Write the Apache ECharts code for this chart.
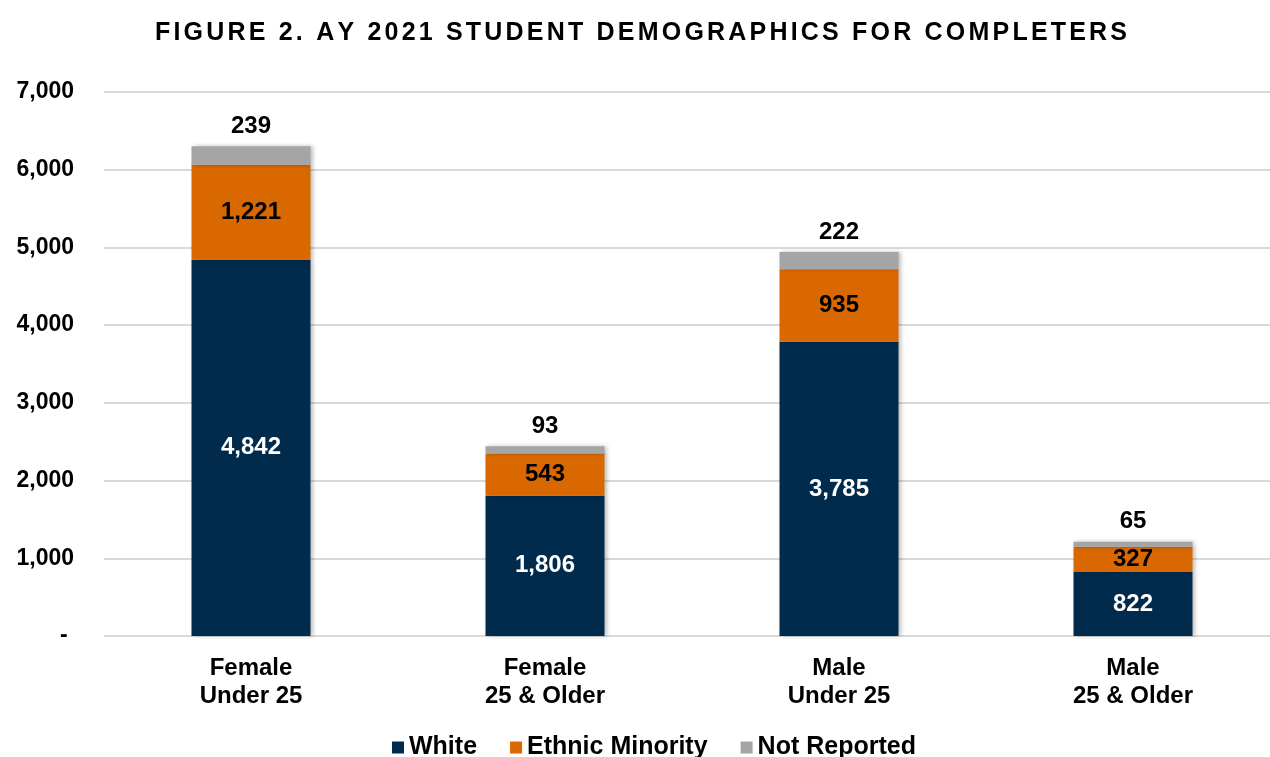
<!DOCTYPE html>
<html>
<head>
<meta charset="utf-8">
<script src="https://cdn.jsdelivr.net/npm/echarts@6/dist/echarts.min.js"></script>
<style>
  html, body { margin: 0; padding: 0; background: #fff; overflow: hidden; }
  /* a little wider than the window: the gridlines run off the right edge like the original */
  #chart { width: 1282px; height: 757px; }
</style>
</head>
<body>
<div id="chart"></div>
<script>
// groups on the x axis
const categories = ['Female\nUnder 25', 'Female\n25 & Older', 'Male\nUnder 25', 'Male\n25 & Older'];
const white = [4842, 1806, 3785, 822];
const ethnicMinority = [1221, 543, 935, 327];
const notReported = [239, 93, 222, 65];
const yTicks = [0, 1000, 2000, 3000, 4000, 5000, 6000, 7000];

const titleText = 'FIGURE 2. AY 2021 STUDENT DEMOGRAPHICS FOR COMPLETERS';
const font = 'Arial, "Liberation Sans", sans-serif';
const fmt = v => v.toLocaleString('en-US');

// title is drawn with expanded character spacing, one rich token per char
const spacedTitle = titleText.split('').map(c => '{c|' + c + '}').join('');

const chart = echarts.init(document.getElementById('chart'));

const option = {
  animation: false,
  textStyle: { fontFamily: font },
  title: {
    text: spacedTitle,
    left: 636,
    textAlign: 'center',
    top: 16,
    textStyle: {
      fontSize: 25, fontWeight: 'bold', color: '#000', fontFamily: font,
      rich: {
        c: { fontSize: 25, fontWeight: 'bold', color: '#000', fontFamily: font, padding: [0, 1.6, 0, 1.6] }
      }
    }
  },
  legend: {
    top: 730,
    left: 387,
    itemWidth: 12,
    itemHeight: 12,
    itemGap: 33,
    icon: 'rect',
    textStyle: { fontSize: 25, fontWeight: 'bold', color: '#000', fontFamily: font },
    data: ['White', 'Ethnic Minority', 'Not Reported']
  },
  grid: { left: 104, right: 2, top: 92, bottom: 121, containLabel: false },
  xAxis: {
    type: 'category',
    data: categories,
    axisLine: { show: false },
    axisTick: { show: false },
    axisLabel: {
      margin: 18,
      fontSize: 24,
      fontWeight: 'bold',
      color: '#000',
      lineHeight: 28,
      fontFamily: font
    }
  },
  yAxis: {
    type: 'value',
    min: yTicks[0],
    max: yTicks[yTicks.length - 1],
    interval: 1000,
    axisLine: { show: false },
    axisTick: { show: false },
    splitLine: { lineStyle: { color: '#d9d9d9', width: 2 } },
    axisLabel: {
      margin: 30,
      fontSize: 23,
      fontWeight: 'bold',
      color: '#000',
      fontFamily: font,
      padding: [3, 0, 0, 0],
      formatter: v => v === 0 ? '- ' : fmt(v)
    }
  },
  series: [
    {
      name: 'White',
      type: 'bar',
      stack: 'total',
      barWidth: 119,
      data: white,
      itemStyle: { color: '#002b4c', shadowColor: 'rgba(0,0,0,0.25)', shadowBlur: 4, shadowOffsetX: 2 },
      label: {
        show: true, position: 'inside', color: '#fff', fontSize: 24, fontWeight: 'bold',
        fontFamily: font, formatter: p => fmt(p.value)
      }
    },
    {
      name: 'Ethnic Minority',
      type: 'bar',
      stack: 'total',
      data: ethnicMinority,
      itemStyle: { color: '#d96800', shadowColor: 'rgba(0,0,0,0.25)', shadowBlur: 4, shadowOffsetX: 2 },
      label: {
        show: true, position: 'inside', color: '#000', fontSize: 24, fontWeight: 'bold',
        fontFamily: font, formatter: p => fmt(p.value)
      }
    },
    {
      name: 'Not Reported',
      type: 'bar',
      stack: 'total',
      data: notReported,
      itemStyle: { color: '#a5a5a5', shadowColor: 'rgba(0,0,0,0.25)', shadowBlur: 4, shadowOffsetX: 2 },
      label: {
        show: true, position: 'top', distance: 8, color: '#000', fontSize: 24, fontWeight: 'bold',
        fontFamily: font, formatter: p => fmt(p.value)
      }
    }
  ]
};

chart.setOption(option);
</script>
</body>
</html>
